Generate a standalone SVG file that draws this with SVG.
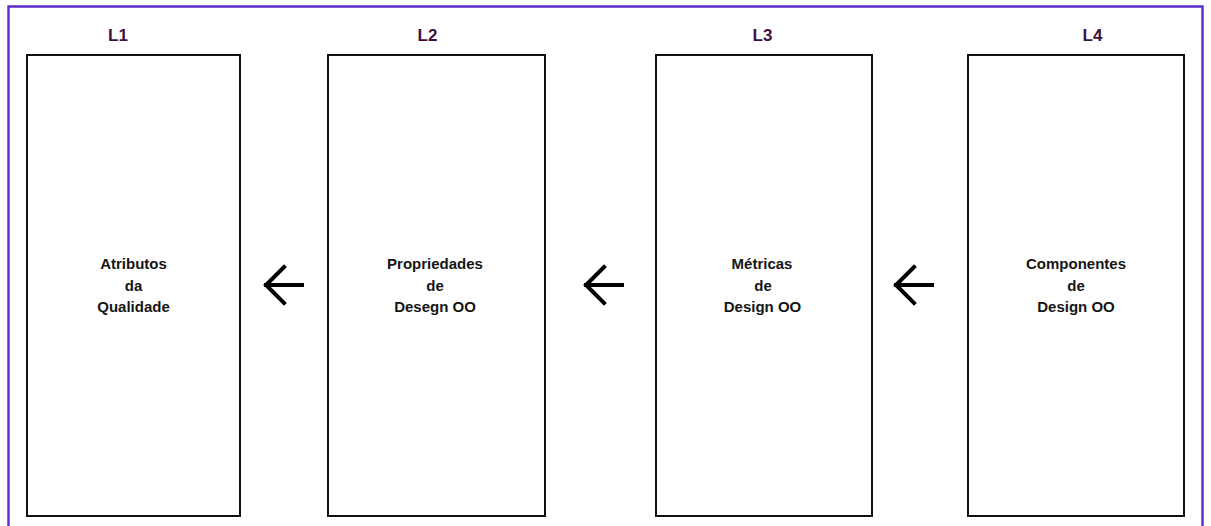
<svg xmlns="http://www.w3.org/2000/svg" width="1211" height="526" viewBox="0 0 1211 526">
  <style>
    .frame { fill: none; stroke: #5b2ccc; stroke-width: 2.4; }
    .box { fill: #ffffff; stroke: #111111; stroke-width: 2; }
    .level { font-family: "Liberation Sans", Arial, sans-serif; font-size: 17px; font-weight: bold; fill: #3f0f40; text-anchor: middle; }
    .label { font-family: "Liberation Sans", Arial, sans-serif; font-size: 15px; font-weight: bold; fill: #151515; text-anchor: middle; }
    .arrow { fill: none; stroke: #000000; stroke-width: 4; stroke-linecap: square; stroke-linejoin: miter; }
  </style>
  <rect width="1211" height="526" fill="#ffffff"/>
  <!-- outer frame, open at the bottom edge -->
  <path class="frame" d="M8.5,530 V6.5 H1202.5 V530"/>

  <g id="node-l1">
    <text class="level" x="118" y="41">L1</text>
    <rect class="box" x="27" y="55" width="213" height="461"/>
    <text class="label" x="133.5" y="269">Atributos</text>
    <text class="label" x="133.5" y="290.5">da</text>
    <text class="label" x="133.5" y="312">Qualidade</text>
  </g>

  <g id="node-l2">
    <text class="level" x="427.5" y="41">L2</text>
    <rect class="box" x="328" y="55" width="217" height="461"/>
    <text class="label" x="435" y="269">Propriedades</text>
    <text class="label" x="435" y="290.5">de</text>
    <text class="label" x="435" y="312">Desegn OO</text>
  </g>

  <g id="node-l3">
    <text class="level" x="762.5" y="41">L3</text>
    <rect class="box" x="656" y="55" width="216" height="461"/>
    <text class="label" x="762" y="269">Métricas</text>
    <text class="label" x="763" y="290.5">de</text>
    <text class="label" x="762.5" y="312">Design OO</text>
  </g>

  <g id="node-l4">
    <text class="level" x="1092.5" y="41">L4</text>
    <rect class="box" x="968" y="55" width="216" height="461"/>
    <text class="label" x="1076" y="269">Componentes</text>
    <text class="label" x="1076" y="290.5">de</text>
    <text class="label" x="1076" y="312">Design OO</text>
  </g>

  <g id="connectors">
    <path class="arrow" d="M302,285 H266 M284,267 L266,285 L284,303"/>
    <path class="arrow" d="M622,285 H586 M604,267 L586,285 L604,303"/>
    <path class="arrow" d="M932,285 H896 M914,267 L896,285 L914,303"/>
  </g>
</svg>
